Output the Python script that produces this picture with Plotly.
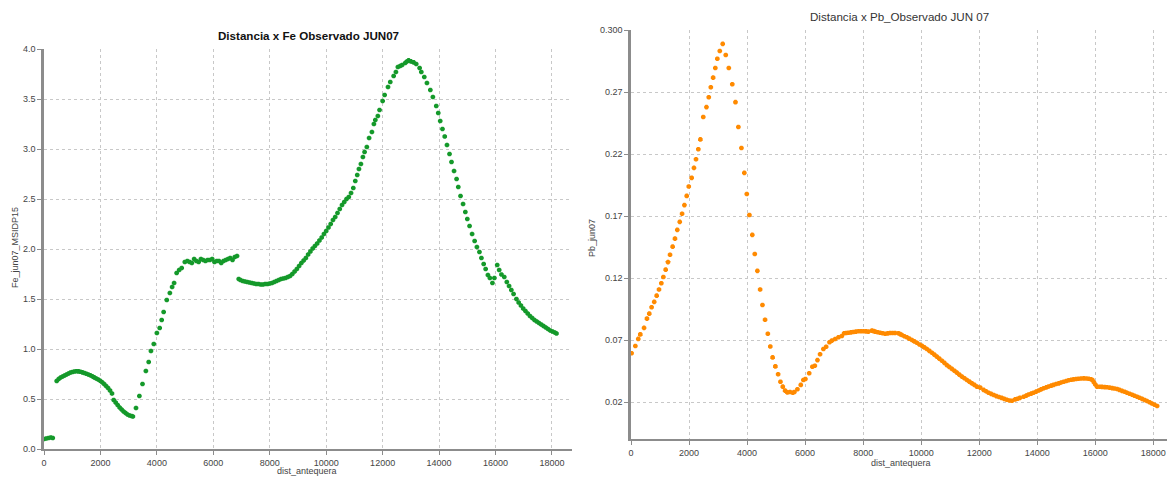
import plotly.graph_objects as go

# ---------------- data ----------------
fe_x = [0, 80, 160, 240, 310,
        450, 520, 590, 660, 730, 800, 870, 940, 1010, 1080, 1150, 1220, 1290, 1360, 1430, 1500, 1570, 1640,
        1710, 1780, 1850, 1920, 1990, 2060, 2130, 2200, 2270, 2340, 2410,
        2470, 2540, 2610, 2680, 2750, 2820, 2890, 2960, 3030, 3100, 3150,
        3260, 3380, 3490, 3610, 3710, 3790, 3890, 4000, 4100, 4170, 4240, 4350, 4460, 4540, 4610, 4700, 4790, 4880,
        4990, 5080, 5160, 5240, 5320, 5400, 5480, 5560, 5640, 5720, 5800, 5880, 5960, 6040, 6120, 6200, 6280,
        6360, 6440, 6520, 6600, 6680, 6760, 6840,
        6900, 6960, 7040, 7120, 7200, 7280, 7360, 7440, 7520, 7600, 7680, 7760, 7840, 7920, 8000, 8080, 8160,
        8240, 8320, 8400, 8480, 8560, 8640,
        8720, 8800, 8880, 8960, 9040, 9120, 9200, 9280, 9360, 9440, 9520, 9600, 9680, 9760, 9840, 9920, 10000,
        10080, 10160, 10240, 10320, 10400, 10480, 10560, 10640, 10720, 10800, 10880, 10960,
        11030, 11100, 11160, 11230, 11300, 11360, 11440, 11520, 11620, 11690, 11740, 11830, 11890, 12000, 12070,
        12190, 12270, 12390, 12470, 12540, 12620, 12690, 12800, 12860, 12920, 13000, 13100, 13190, 13310, 13370,
        13475, 13570, 13690, 13780, 13900, 13970, 14040, 14120, 14200, 14280, 14370, 14440, 14530, 14620, 14680,
        14760, 14850, 14930, 15000, 15080, 15170, 15260, 15340, 15430, 15500, 15580, 15650, 15730, 15800, 15890,
        15960,
        16060, 16130, 16210, 16310, 16400, 16480, 16560, 16640, 16740, 16820, 16900, 16980, 17060, 17140, 17220,
        17300, 17380, 17460, 17540, 17620, 17700, 17780, 17860, 17940, 18020, 18100, 18160]
fe_y = [0.10, 0.105, 0.11, 0.115, 0.11,
        0.68, 0.70, 0.715, 0.725, 0.735, 0.745, 0.755, 0.765, 0.77, 0.775, 0.778, 0.776, 0.772, 0.766, 0.76, 0.752,
        0.745, 0.737, 0.727, 0.716, 0.705, 0.695, 0.683, 0.668, 0.65, 0.63, 0.61, 0.585, 0.555,
        0.49, 0.465, 0.44, 0.415, 0.395, 0.375, 0.36, 0.345, 0.335, 0.33, 0.325,
        0.41, 0.53, 0.65, 0.78, 0.87, 0.98, 1.05, 1.16, 1.21, 1.29, 1.37, 1.49, 1.56, 1.62, 1.66, 1.76, 1.79, 1.81,
        1.87, 1.88, 1.87, 1.86, 1.90, 1.88, 1.87, 1.90, 1.89, 1.88, 1.89, 1.89, 1.90, 1.87, 1.88, 1.88, 1.86,
        1.88, 1.89, 1.90, 1.91, 1.89, 1.92, 1.93,
        1.70, 1.69, 1.68, 1.675, 1.67, 1.665, 1.66, 1.655, 1.65, 1.65, 1.645, 1.645, 1.65, 1.65, 1.655, 1.66, 1.67,
        1.68, 1.69, 1.70, 1.705, 1.71, 1.72,
        1.73, 1.75, 1.775, 1.80, 1.83, 1.86, 1.885, 1.91, 1.945, 1.975, 2.005, 2.03, 2.055, 2.085, 2.115, 2.15, 2.18,
        2.215, 2.25, 2.29, 2.32, 2.36, 2.40, 2.44, 2.47, 2.50, 2.52, 2.56, 2.61,
        2.68, 2.74, 2.80, 2.85, 2.92, 2.97, 3.02, 3.11, 3.17, 3.25, 3.29, 3.33, 3.39, 3.48, 3.54,
        3.62, 3.67, 3.73, 3.77, 3.82, 3.83, 3.84, 3.86, 3.875, 3.886, 3.876, 3.866, 3.85, 3.81, 3.77,
        3.72, 3.66, 3.59, 3.52, 3.43, 3.36, 3.28, 3.20, 3.125, 3.04, 2.95, 2.87, 2.78, 2.70, 2.62,
        2.53, 2.45, 2.37, 2.30, 2.23, 2.15, 2.08, 2.02, 1.97, 1.91, 1.85, 1.80, 1.74, 1.71, 1.66,
        1.71,
        1.84, 1.79, 1.745, 1.72, 1.67, 1.63, 1.59, 1.55, 1.50, 1.465, 1.435, 1.405, 1.38, 1.355, 1.33,
        1.31, 1.29, 1.275, 1.26, 1.245, 1.23, 1.215, 1.20, 1.185, 1.175, 1.165, 1.155]

pb_x = [20, 150, 250, 320, 450, 550, 630, 710, 800, 885, 965, 1045, 1115, 1195, 1275, 1345, 1435, 1515, 1595,
        1680, 1760, 1840, 1920, 1990, 2090, 2170, 2240, 2320, 2390, 2490, 2600, 2680, 2750, 2830, 2905, 2975,
        3060, 3160, 3265, 3370, 3490, 3600, 3700, 3805, 3905, 3990, 4080, 4180, 4265, 4355, 4450, 4530, 4620,
        4715, 4800, 4880, 4975, 5070, 5150, 5230, 5310, 5390, 5480, 5575, 5630, 5735, 5850, 5940, 6010, 6140,
        6250, 6335, 6425, 6515, 6630, 6725, 6840, 6920, 7035, 7150, 7265, 7345, 7420, 7495, 7580, 7665, 7750,
        7840, 7925, 8010, 8095, 8180, 8300, 8360, 8415, 8500, 8585, 8670, 8760, 8845, 8930, 9015, 9100, 9215,
        9275, 9335, 9420, 9505, 9590, 9680, 9765, 9850, 9940, 10025, 10110, 10195, 10280, 10370, 10455, 10540,
        10625, 10715, 10800, 10885, 10970, 11060, 11145, 11230, 11315, 11405, 11490, 11575, 11660, 11750, 11835,
        11920, 12035, 12150, 12235, 12320, 12410, 12500, 12590, 12680, 12770, 12860, 12950, 13040, 13130, 13240,
        13320, 13400, 13530, 13620, 13700, 13790, 13870, 13960, 14050, 14130, 14220, 14310, 14390, 14480, 14560,
        14650, 14740, 14820, 14910, 15000, 15080, 15170, 15250, 15340, 15420, 15510, 15600, 15690, 15770, 15850,
        15900, 15950, 16000, 16060, 16150, 16230, 16320, 16400, 16490, 16580, 16660, 16750, 16830, 16920, 17010,
        17090, 17180, 17270, 17350, 17440, 17520, 17610, 17700, 17780, 17870, 17950, 18040, 18130]
pb_y = [0.0595, 0.0654, 0.0711, 0.0748, 0.080, 0.0875, 0.0915, 0.0966, 0.101, 0.106, 0.111, 0.116, 0.121, 0.127,
        0.133, 0.139, 0.1455, 0.152, 0.159, 0.1655, 0.172, 0.179, 0.1864, 0.194, 0.201, 0.209, 0.216, 0.224,
        0.232, 0.250, 0.258, 0.266, 0.274, 0.2818, 0.2896, 0.297, 0.3033, 0.309, 0.300, 0.2896, 0.2765, 0.262,
        0.242, 0.225, 0.205, 0.188, 0.171, 0.155, 0.1396, 0.126, 0.111, 0.0985, 0.0866, 0.0753, 0.0650, 0.0562,
        0.049, 0.0426, 0.0366, 0.0326, 0.0294, 0.028, 0.0283, 0.0277, 0.0283, 0.0305, 0.034, 0.038, 0.0388,
        0.0434, 0.0487, 0.0495, 0.054, 0.0587, 0.063, 0.0648, 0.0684, 0.0697, 0.071, 0.0724, 0.0735, 0.0757,
        0.0759, 0.0761, 0.0764, 0.0767, 0.077, 0.0773, 0.0773, 0.0773, 0.0772, 0.077, 0.0778, 0.0774, 0.077,
        0.0765, 0.0761, 0.0757, 0.0753, 0.0756, 0.0759, 0.0759, 0.0759, 0.0757, 0.075, 0.0743, 0.0733, 0.0724,
        0.0713, 0.0702, 0.0691, 0.068, 0.0666, 0.0656, 0.0643, 0.063, 0.0615, 0.060, 0.0584, 0.0568, 0.0552,
        0.0535, 0.0518, 0.050, 0.0485, 0.0469, 0.0454, 0.0439, 0.0423, 0.0407, 0.0394, 0.038, 0.0367, 0.0353,
        0.034, 0.0326, 0.0318, 0.030, 0.0289, 0.0277, 0.0268, 0.0259, 0.025, 0.0243, 0.0236, 0.0228, 0.0220,
        0.0214, 0.0212, 0.0224, 0.0229, 0.0236, 0.0245, 0.0254, 0.0263, 0.0270, 0.0277, 0.0286, 0.0295, 0.0304,
        0.0313, 0.032, 0.0327, 0.0334, 0.034, 0.0347, 0.0353, 0.036, 0.0366, 0.0372, 0.0378, 0.0382, 0.0385,
        0.0388, 0.039, 0.0392, 0.0393, 0.0392, 0.0390, 0.0386, 0.0380, 0.0362, 0.0343, 0.0326, 0.0325, 0.0324,
        0.0322, 0.0321, 0.0318, 0.0314, 0.0311, 0.0307, 0.030, 0.0292, 0.0285, 0.0277, 0.0269, 0.0261, 0.0253,
        0.0245, 0.0237, 0.0228, 0.0219, 0.021, 0.020, 0.019, 0.018, 0.017]

x_ticks = [0, 2000, 4000, 6000, 8000, 10000, 12000, 14000, 16000, 18000]
x_tick_text = ["0", "2000", "4000", "6000", "8000", "10000", "12000", "14000", "16000", "18000"]
fe_ticks = [0.0, 0.5, 1.0, 1.5, 2.0, 2.5, 3.0, 3.5, 4.0]
fe_tick_text = ["0.0", "0.5", "1.0", "1.5", "2.0", "2.5", "3.0", "3.5", "4.0"]
pb_ticks = [0.02, 0.07, 0.12, 0.17, 0.22, 0.27, 0.32]
pb_tick_text = ["0.02", "0.07", "0.12", "0.17", "0.22", "0.27", "0.300"]

title_fe = "Distancia x Fe Observado JUN07"
title_pb = "Distancia x Pb_Observado JUN 07"
xlabel = "dist_antequera"
ylabel_fe = "Fe_jun07_MSIDP15"
ylabel_pb = "Pb_jun07"

# ---------------- figure ----------------
W, H = 1168, 477
FONT = "Liberation Sans, Arial, sans-serif"
GREEN = "#14992a"
ORANGE = "#ff8a00"

fig = go.Figure()
fig.add_trace(go.Scatter(x=fe_x, y=fe_y, mode="markers", xaxis="x", yaxis="y",
                         marker=dict(symbol="octagon", size=5, color=GREEN, line=dict(width=0)),
                         showlegend=False, hoverinfo="x+y"))
fig.add_trace(go.Scatter(x=pb_x, y=pb_y, mode="markers", xaxis="x2", yaxis="y2",
                         marker=dict(symbol="octagon", size=5, color=ORANGE, line=dict(width=0)),
                         showlegend=False, hoverinfo="x+y"))

def px_x(p):
    return p / W

def px_y(p):
    return 1 - p / H

axis_common = dict(
    showgrid=True, gridcolor="#c8c8c8", gridwidth=1, griddash="3px,3px",
    zeroline=False, showline=True, linecolor="#8c8c8c",
    ticks="outside", ticklen=4, tickcolor="#8c8c8c",
    tickfont=dict(family=FONT, size=9, color="#444444"),
    fixedrange=True, automargin=False,
)

L1, R1, T1, B1 = 44, 572, 49, 449
L2, R2, T2, B2 = 631, 1167, 30, 439

fig.update_layout(
    width=W, height=H,
    margin=dict(l=0, r=0, t=0, b=0, autoexpand=False),
    paper_bgcolor="white", plot_bgcolor="white",
    font=dict(family=FONT, size=9, color="#333333"),
    xaxis=dict(domain=[px_x(L1), px_x(R1)], range=[0, 18710], anchor="y",
               tickvals=x_ticks, ticktext=x_tick_text, linewidth=1.5, **axis_common),
    yaxis=dict(domain=[px_y(B1), px_y(T1)], range=[0, 4.0], anchor="x",
               tickvals=fe_ticks, ticktext=fe_tick_text, linewidth=2.5, **axis_common),
    xaxis2=dict(domain=[px_x(L2), px_x(R2)], range=[0, 18470], anchor="y2",
                tickvals=x_ticks, ticktext=x_tick_text, linewidth=1.5, **axis_common),
    yaxis2=dict(domain=[px_y(B2), px_y(T2)], range=[-0.0096, 0.3202], anchor="x2",
                tickvals=pb_ticks, ticktext=pb_tick_text, linewidth=2.5, **axis_common),
)

annotations = [
    dict(text="<b>" + title_fe + "</b>", x=px_x((L1 + R1) / 2), y=px_y(35),
         font=dict(family=FONT, size=11.6, color="#111111")),
    dict(text=title_pb, x=px_x((L2 + R2) / 2), y=px_y(17),
         font=dict(family=FONT, size=11.6, color="#333333")),
    dict(text=xlabel, x=px_x(307), y=px_y(471), font=dict(family=FONT, size=9, color="#444444")),
    dict(text=xlabel, x=px_x(901), y=px_y(463), font=dict(family=FONT, size=9, color="#444444")),
    dict(text=ylabel_fe, x=px_x(15), y=px_y(248), textangle=-90,
         font=dict(family=FONT, size=9, color="#444444")),
    dict(text=ylabel_pb, x=px_x(592), y=px_y(238), textangle=-90,
         font=dict(family=FONT, size=9, color="#444444")),
]
for a in annotations:
    a.update(xref="paper", yref="paper", showarrow=False, xanchor="center", yanchor="middle")
fig.update_layout(annotations=annotations)

page_fix = "document.body.style.margin='0';document.body.style.padding='0';document.body.style.overflow='hidden';"
fig.write_html("out.html", config={"displayModeBar": False}, post_script=page_fix)
